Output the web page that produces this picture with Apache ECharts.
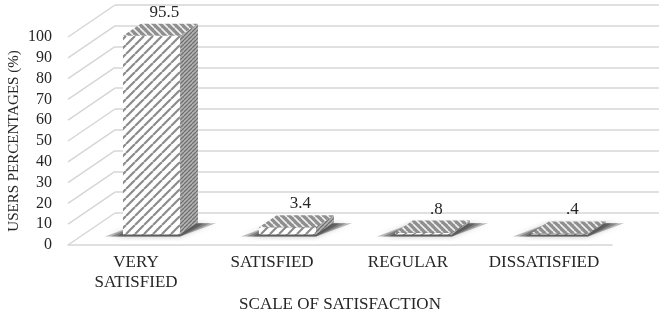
<!DOCTYPE html>
<html>
<head>
<meta charset="utf-8">
<script src="https://cdn.jsdelivr.net/npm/echarts@6/dist/echarts.min.js"></script>
<style>
html,body{margin:0;padding:0;background:#fff;}
#chart{width:667px;height:322px;}
</style>
</head>
<body>
<div id="chart"></div>
<script>
var categories = ['VERY\nSATISFIED', 'SATISFIED', 'REGULAR', 'DISSATISFIED'];
var percentages = [95.5, 3.4, 0.8, 0.4];
var yTicks = [0, 10, 20, 30, 40, 50, 60, 70, 80, 90, 100];

var FONT = '"Liberation Serif", "Times New Roman", serif';
var TXT = '#262626';
var GRID_LINE = '#d6d6d6';
// depth of the 3d box (pixels from front plane to back wall)
var DX = 47, DY = 32;
// bar placement inside the depth
var D1 = 0.33, D2 = 0.71;

// striped tiles for the faces
function stripes(size, bg, fg, w, backslash) {
    var c = document.createElement('canvas');
    c.width = c.height = size;
    var ctx = c.getContext('2d');
    ctx.fillStyle = bg;
    ctx.fillRect(0, 0, size, size);
    ctx.strokeStyle = fg;
    ctx.lineWidth = w;
    ctx.beginPath();
    for (var k = -1; k <= 1; k++) {
        if (backslash) {
            ctx.moveTo(k * size, 0); ctx.lineTo(k * size + size, size);
        } else {
            ctx.moveTo(k * size, size); ctx.lineTo(k * size + size, 0);
        }
    }
    ctx.stroke();
    return c;
}
var frontFill = {image: stripes(9, '#ffffff', '#8c8c8c', 2.2, false), repeat: 'repeat'};
var sideFill = {image: stripes(4, '#b4b4b4', '#707070', 1.3, false), repeat: 'repeat'};
var topFill = {image: stripes(7, '#8f8f8f', '#f0f0f0', 1.6, true), repeat: 'repeat'};

var myChart = echarts.init(document.getElementById('chart'));

var option = {
    animation: false,
    grid: [
        {left: 68, right: 55, top: 37, bottom: 77, outerBoundsMode: 'none'},               // front plane
        {left: 68 + DX, right: 55 - DX, top: 37 - DY, bottom: 77 + DY, outerBoundsMode: 'none'}  // back wall
    ],
    xAxis: [
        {
            type: 'category',
            gridIndex: 0,
            data: categories,
            axisLine: {lineStyle: {color: GRID_LINE, width: 1.5}},
            axisTick: {show: false},
            axisLabel: {interval: 0, color: TXT, fontFamily: FONT, fontSize: 17, margin: 8, lineHeight: 20},
            name: 'SCALE OF SATISFACTION',
            nameLocation: 'middle',
            nameGap: 51,
            nameMoveOverlap: false,
            nameTextStyle: {color: TXT, fontFamily: FONT, fontSize: 17}
        },
        {type: 'value', gridIndex: 1, show: false, min: 0, max: 1}
    ],
    yAxis: [
        {
            type: 'value',
            gridIndex: 0,
            min: 0, max: 100, interval: 10,
            axisLine: {show: false},
            axisTick: {show: false},
            splitLine: {show: false},
            axisLabel: {color: TXT, fontFamily: FONT, fontSize: 16, margin: 16},
            name: 'USERS PERCENTAGES (%)',
            nameLocation: 'middle',
            nameGap: 46,
            nameMoveOverlap: false,
            nameTextStyle: {color: TXT, fontFamily: FONT, fontSize: 15}
        },
        {
            type: 'value',
            gridIndex: 1,
            min: 0, max: 100, interval: 10,
            axisLine: {show: false},
            axisTick: {show: false},
            axisLabel: {show: false},
            splitLine: {lineStyle: {color: GRID_LINE, width: 1.5}}
        }
    ],
    series: [
        {
            // side wall lines joining the front labels to the back wall
            type: 'custom',
            xAxisIndex: 0, yAxisIndex: 0,
            data: yTicks.map(function (v) { return [0, v]; }),
            silent: true,
            renderItem: function (params, api) {
                var y = api.coord([0, api.value(1)])[1];
                var x0 = params.coordSys.x;
                return {
                    type: 'line',
                    shape: {x1: x0, y1: y, x2: x0 + DX, y2: y - DY},
                    style: {stroke: GRID_LINE, lineWidth: 1.5}
                };
            }
        },
        {
            type: 'custom',
            xAxisIndex: 0, yAxisIndex: 0,
            data: percentages.map(function (v, i) { return [i, v]; }),
            renderItem: function (params, api) {
                var i = api.value(0), v = api.value(1);
                var base = api.coord([i, 0]);
                var top = api.coord([i, v])[1];
                var cx = base[0], y0 = base[1];
                var h = api.size([1, 0])[0] * 0.21;
                var fx = cx + DX * D1, fy0 = y0 - DY * D1, fyT = top - DY * D1;
                var bx = cx + DX * D2, by0 = y0 - DY * D2, byT = top - DY * D2;
                var label = String(v).replace(/^0\./, '.');
                var children = [];
                // soft floor shadow, layered so it fades outward
                [18, 12, 6].forEach(function (sh) {
                    children.push({
                        type: 'polygon',
                        shape: {points: [[fx - h - sh, fy0 + 2], [fx + h, fy0 + 2], [bx + h + sh, by0 + 1], [bx - h, by0 + 1]]},
                        style: {fill: 'rgba(30,30,30,0.3)', shadowBlur: 6, shadowColor: 'rgba(0,0,0,0.3)'}
                    });
                });
                children.push(
                    {
                        type: 'polygon',
                        shape: {points: [[fx - h, fyT], [fx + h, fyT], [fx + h, fy0], [fx - h, fy0]]},
                        style: {fill: frontFill}
                    },
                    {
                        type: 'polygon',
                        shape: {points: [[fx + h, fyT], [bx + h, byT], [bx + h, by0], [fx + h, fy0]]},
                        style: {fill: sideFill}
                    },
                    {
                        type: 'polygon',
                        shape: {points: [[fx - h, fyT], [fx + h, fyT], [bx + h, byT], [bx - h, byT]]},
                        style: {fill: topFill}
                    },
                    {
                        type: 'text',
                        style: {
                            text: label,
                            x: (fx + bx) / 2 + 4,
                            y: byT - 3,
                            align: 'center',
                            verticalAlign: 'bottom',
                            fill: TXT,
                            font: '17px ' + FONT
                        }
                    }
                );
                return {type: 'group', children: children};
            }
        }
    ]
};
myChart.setOption(option);
</script>
</body>
</html>
